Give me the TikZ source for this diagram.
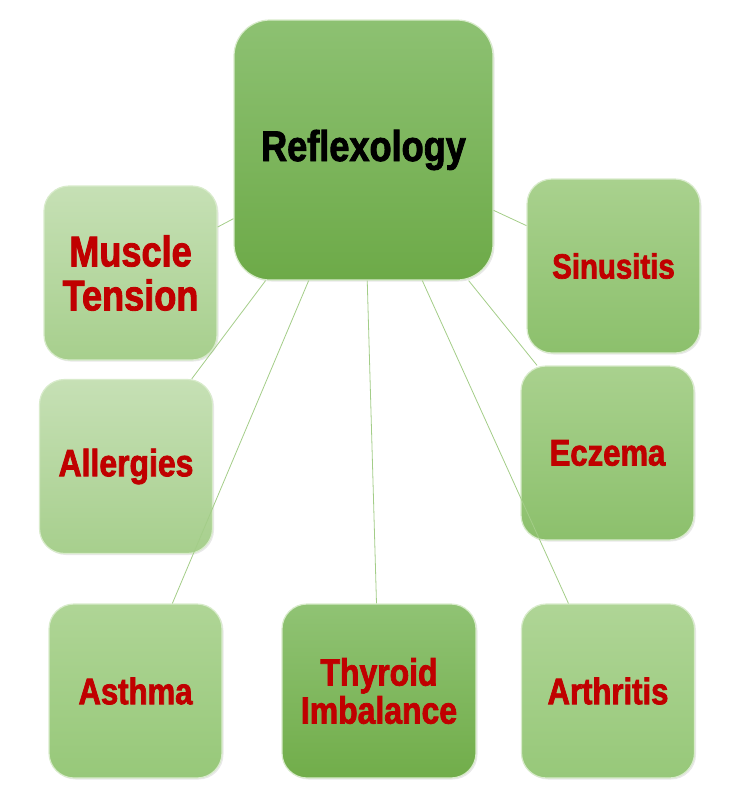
\documentclass[tikz,border=0pt]{standalone}
\usepackage{fontspec}
\setmainfont{Liberation Sans}[FakeStretch=0.84, BoldFeatures={FakeBold=2}]
\usetikzlibrary{shadows}

\definecolor{hubtop}{HTML}{8DC172}
\definecolor{hubbot}{HTML}{6DAA48}
\definecolor{paletop}{HTML}{C6E0B5}
\definecolor{palebot}{HTML}{A7CF8D}
\definecolor{midtop}{HTML}{A9D18E}
\definecolor{midbot}{HTML}{8CC06C}
\definecolor{softtop}{HTML}{AFD596}
\definecolor{softbot}{HTML}{97C879}
\definecolor{deeptop}{HTML}{90C374}
\definecolor{deepbot}{HTML}{71AD4A}
\definecolor{rimgreen}{HTML}{D8EBCB}
\definecolor{linkgreen}{HTML}{A3CD88}
\definecolor{labelred}{HTML}{C00000}

\begin{document}
\begin{tikzpicture}[x=1pt,y=-1pt,
  box/.style={rectangle, rounded corners=25pt, draw=rimgreen, line width=1.2pt,
    inner sep=0pt, align=center, font=\bfseries, text=labelred,
    minimum width=173pt, minimum height=174pt,
    drop shadow={opacity=0.18, shadow xshift=1.5pt, shadow yshift=-1.5pt}},
  pale/.style={box, top color=paletop, bottom color=palebot},
  mid/.style={box, top color=midtop, bottom color=midbot},
  soft/.style={box, top color=softtop, bottom color=softbot},
  link/.style={linkgreen, line width=0.8pt}]
\useasboundingbox (0,0) rectangle (729,806);
% Hub
\node[box, top color=hubtop, bottom color=hubbot, rounded corners=36pt,
  minimum width=259pt, minimum height=260pt, text=black,
  font=\bfseries\fontsize{43}{44}\selectfont] (hub) at (363.5,150) {Reflexology};
% Left column
\node[pale, font=\bfseries\fontsize{43}{44}\selectfont] (tension) at (130.5,273) {Muscle\\Tension};
\node[pale, font=\bfseries\fontsize{38}{40}\selectfont] (allergies) at (126,466.5) {Allergies};
\node[soft, font=\bfseries\fontsize{37}{40}\selectfont] (asthma) at (135.5,691) {Asthma};
% Bottom middle
\node[box, top color=deeptop, bottom color=deepbot, minimum width=194pt,
  font=\bfseries\fontsize{38}{38}\selectfont] (thyroid) at (379,691) {Thyroid\\Imbalance};
% Right column
\node[mid, font=\bfseries\fontsize{35}{40}\selectfont] (sinusitis) at (613.5,266) {Sinusitis};
\node[mid, font=\bfseries\fontsize{37}{40}\selectfont] (eczema) at (607.5,453) {Eczema};
\node[soft, font=\bfseries\fontsize{37}{40}\selectfont] (arthritis) at (608,691) {Arthritis};
% Spokes from the hub
\foreach \leaf in {tension,allergies,asthma,thyroid,sinusitis,eczema,arthritis} {
  \draw[link] (hub) -- (\leaf);
}
\end{tikzpicture}
\end{document}
